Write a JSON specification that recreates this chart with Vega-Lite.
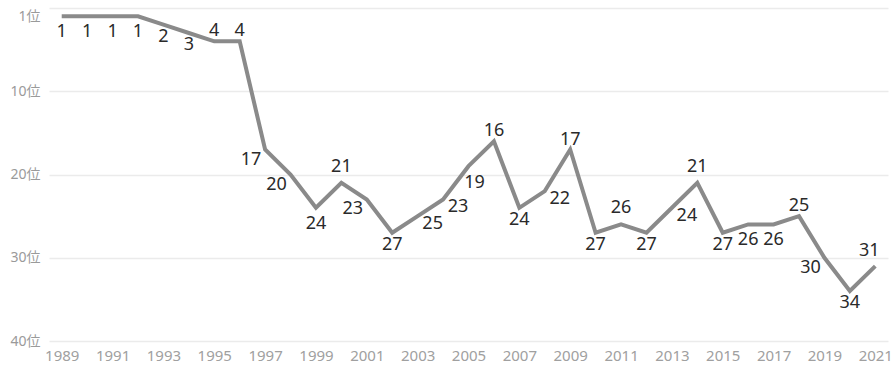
{
  "$schema": "https://vega.github.io/schema/vega-lite/v6.json",
  "width": 839,
  "height": 333,
  "autosize": {"type": "none"},
  "padding": {"left": 49, "top": 8, "right": 7, "bottom": 26},
  "background": "white",
  "config": {
    "view": {"stroke": null},
    "font": "Noto Sans, Noto Sans CJK JP"
  },
  "data": {
    "values": [
      {"year": 1989, "rank": 1}, {"year": 1990, "rank": 1}, {"year": 1991, "rank": 1},
      {"year": 1992, "rank": 1}, {"year": 1993, "rank": 2}, {"year": 1994, "rank": 3},
      {"year": 1995, "rank": 4}, {"year": 1996, "rank": 4}, {"year": 1997, "rank": 17},
      {"year": 1998, "rank": 20}, {"year": 1999, "rank": 24}, {"year": 2000, "rank": 21},
      {"year": 2001, "rank": 23}, {"year": 2002, "rank": 27}, {"year": 2003, "rank": 25},
      {"year": 2004, "rank": 23}, {"year": 2005, "rank": 19}, {"year": 2006, "rank": 16},
      {"year": 2007, "rank": 24}, {"year": 2008, "rank": 22}, {"year": 2009, "rank": 17},
      {"year": 2010, "rank": 27}, {"year": 2011, "rank": 26}, {"year": 2012, "rank": 27},
      {"year": 2013, "rank": 24}, {"year": 2014, "rank": 21}, {"year": 2015, "rank": 27},
      {"year": 2016, "rank": 26}, {"year": 2017, "rank": 26}, {"year": 2018, "rank": 25},
      {"year": 2019, "rank": 30}, {"year": 2020, "rank": 34}, {"year": 2021, "rank": 31}
    ]
  },
  "encoding": {
    "x": {
      "field": "year", "type": "quantitative",
      "scale": {"domain": [1988.5, 2021.5], "nice": false, "zero": false},
      "axis": {
        "title": null, "values": [1989,1991,1993,1995,1997,1999,2001,2003,2005,2007,2009,2011,2013,2015,2017,2019,2021],
        "format": "d", "grid": false, "domain": false, "ticks": false,
        "labelFont": "Noto Sans", "labelFontSize": 15, "labelColor": "#a0a0a0",
        "labelPadding": 7, "labelFlush": false
      }
    },
    "y": {
      "field": "rank", "type": "quantitative",
      "scale": {"domain": [0, 40], "reverse": true, "nice": false, "zero": false},
      "axis": {
        "title": null, "values": [0, 1, 10, 20, 30, 40],
        "labelExpr": "datum.value == 0 ? '' : datum.value + '位'",
        "domain": false, "ticks": false,
        "gridColor": "#ebebeb", "gridWidth": 1.5,
        "gridOpacity": {"condition": {"test": "datum.value == 1", "value": 0}, "value": 1},
        "labelFont": "Noto Sans, Noto Sans CJK JP", "labelFontSize": 14, "labelColor": "#9a9a9a",
        "labelPadding": 9
      }
    }
  },
  "layer": [
    {"mark": {"type": "line", "color": "#8a8a8a", "strokeWidth": 4, "strokeJoin": "miter"}},
    {
      "transform": [{"filter": {"field": "year", "oneOf": [1989, 1990, 1991, 1992, 1999, 2016, 2017]}}],
      "mark": {"type": "text", "fontSize": 18, "color": "#2a2a2a", "baseline": "middle", "dy": 16},
      "encoding": {"text": {"field": "rank"}}
    },
    {
      "transform": [{"filter": {"field": "year", "oneOf": [1993, 1994, 2002, 2007, 2010, 2012, 2015, 2020]}}],
      "mark": {"type": "text", "fontSize": 18, "color": "#2a2a2a", "baseline": "middle", "dy": 12},
      "encoding": {"text": {"field": "rank"}}
    },
    {
      "transform": [{"filter": {"field": "year", "oneOf": [1995, 1996, 2006, 2009, 2018]}}],
      "mark": {"type": "text", "fontSize": 18, "color": "#2a2a2a", "baseline": "middle", "dy": -10},
      "encoding": {"text": {"field": "rank"}}
    },
    {
      "transform": [{"filter": {"field": "year", "oneOf": [2000, 2011, 2014]}}],
      "mark": {"type": "text", "fontSize": 18, "color": "#2a2a2a", "baseline": "middle", "dy": -16},
      "encoding": {"text": {"field": "rank"}}
    },
    {
      "transform": [{"filter": {"field": "year", "oneOf": [2021]}}],
      "mark": {"type": "text", "fontSize": 18, "color": "#2a2a2a", "baseline": "middle", "dy": -15, "dx": -6},
      "encoding": {"text": {"field": "rank"}}
    },
    {
      "transform": [{"filter": {"field": "year", "oneOf": [1997, 1998, 2001, 2019]}}],
      "mark": {"type": "text", "fontSize": 18, "color": "#2a2a2a", "baseline": "middle", "dy": 10, "dx": -14},
      "encoding": {"text": {"field": "rank"}}
    },
    {
      "transform": [{"filter": {"field": "year", "oneOf": [2003, 2004, 2008, 2013]}}],
      "mark": {"type": "text", "fontSize": 18, "color": "#2a2a2a", "baseline": "middle", "dy": 8, "dx": 15},
      "encoding": {"text": {"field": "rank"}}
    },
    {
      "transform": [{"filter": {"field": "year", "oneOf": [2005]}}],
      "mark": {"type": "text", "fontSize": 18, "color": "#2a2a2a", "baseline": "middle", "dy": 17, "dx": 6},
      "encoding": {"text": {"field": "rank"}}
    }
  ]
}
